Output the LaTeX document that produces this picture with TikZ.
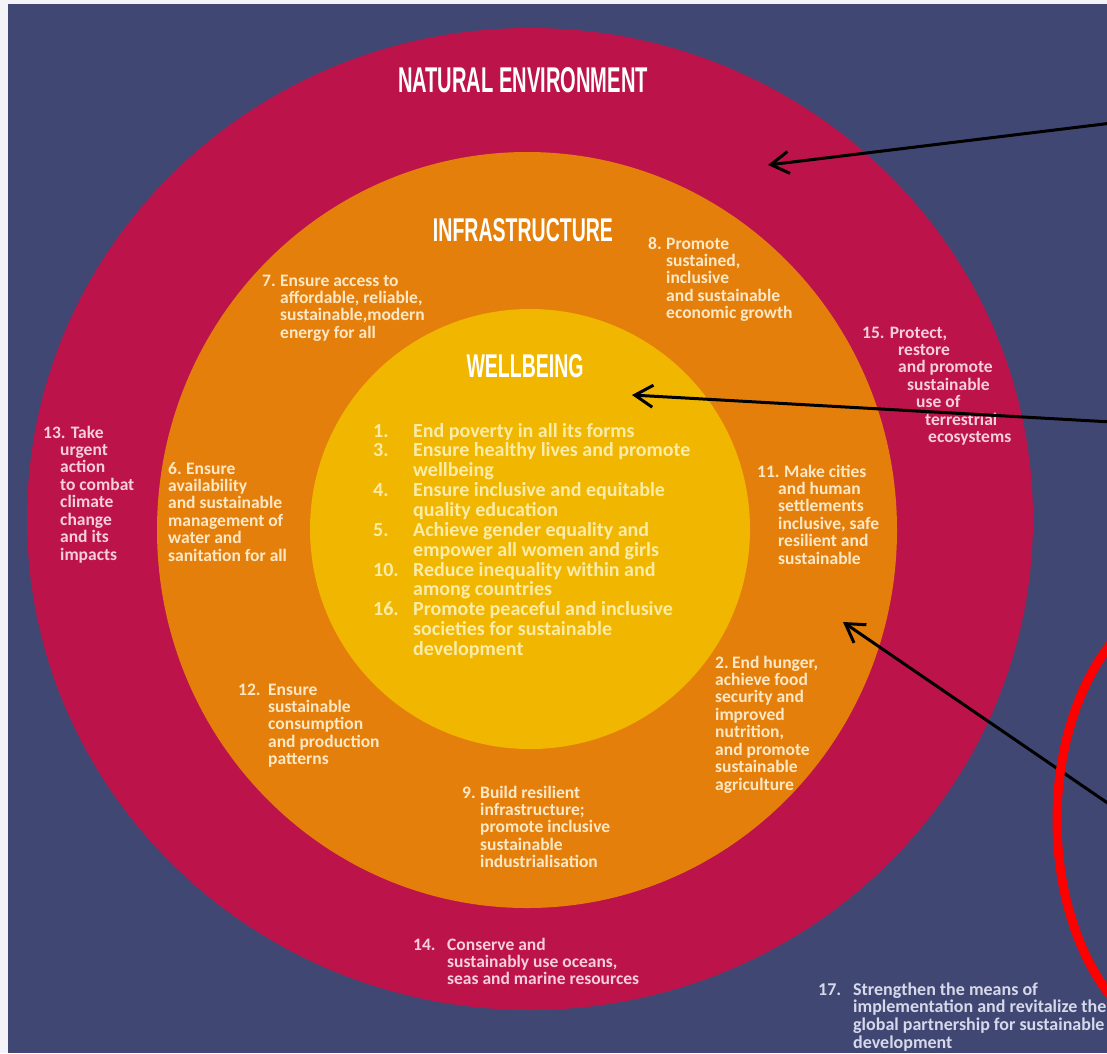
\documentclass[tikz,border=0pt]{standalone}
\usepackage{fontspec}
\usepackage{graphicx}
\usetikzlibrary{arrows.meta}
\newfontfamily\goalfont{Carlito}
\newfontfamily\headfont{Liberation Sans}
\definecolor{edgewhite}{RGB}{244,244,248}
\definecolor{bgnavy}{RGB}{65,71,115}
\definecolor{ringred}{RGB}{188,20,74}
\definecolor{ringorange}{RGB}{229,127,12}
\definecolor{coreyellow}{RGB}{241,182,0}
\definecolor{txtred}{RGB}{246,206,221}
\definecolor{txtorange}{RGB}{253,232,198}
\definecolor{txtyellow}{RGB}{252,236,168}
\definecolor{txtnavy}{RGB}{214,217,234}
\tikzset{
  goal/.style={font=\goalfont\bfseries\fontsize{17.5}{17.3}\selectfont, inner sep=0pt, anchor=base west},
  head/.style={font=\headfont\bfseries, text=white, inner sep=0pt},
  pointer/.style={line width=3pt, -{Straight Barb[length=18pt,width=22pt]}}
}
\begin{document}
\begin{tikzpicture}[x=1pt,y=-1pt]
\useasboundingbox (0,0) rectangle (1107,1053);
\clip (0,0) rectangle (1107,1053);
\fill[edgewhite] (0,0) rectangle (1107,1053);
\fill[bgnavy] (8,4) rectangle (1107,1053);
% the three rings
\fill[ringred] (530,519) ellipse [x radius=503, y radius=491];
\fill[ringorange] (527,530) ellipse [x radius=370, y radius=378];
\fill[coreyellow] (530,529) circle [radius=220];
% headings
\node[head] (natural) at (523,80) {\resizebox{250pt}{25pt}{NATURAL ENVIRONMENT}};
\node[head] (infra) at (523,230) {\resizebox{180pt}{23pt}{INFRASTRUCTURE}};
\node[head] (well) at (525,366) {\resizebox{117pt}{23pt}{WELLBEING}};
% goals in the outer ring
\node[goal, text=txtred] (g13) at (43,438) {\begin{tabular}[t]{@{}l@{}}13. Take\\\hspace*{17pt}urgent\\\hspace*{17pt}action\\\hspace*{17pt}to combat\\\hspace*{17pt}climate\\\hspace*{17pt}change\\\hspace*{17pt}and its\\\hspace*{17pt}impacts\end{tabular}};
\node[goal, text=txtred] (g15) at (862,338) {\begin{tabular}[t]{@{}l@{}}15. Protect,\\\hspace*{36pt}restore\\\hspace*{36pt}and promote\\\hspace*{45pt}sustainable\\\hspace*{54pt}use of\\\hspace*{63pt}terrestrial\\\hspace*{66pt}ecosystems\end{tabular}};
\node[goal, text=txtred] (g14) at (413,950) {\begin{tabular}[t]{@{}l@{}}\makebox[34pt][l]{14.}Conserve and\\\hspace*{34pt}sustainably use oceans,\\\hspace*{34pt}seas and marine resources\end{tabular}};
% goals in the middle ring
\node[goal, text=txtorange] (g7) at (262,286) {\begin{tabular}[t]{@{}l@{}}\makebox[18pt][l]{7.}Ensure access to\\\hspace*{18pt}affordable, reliable,\\\hspace*{18pt}sustainable,modern\\\hspace*{18pt}energy for all\end{tabular}};
\node[goal, text=txtorange] (g8) at (648,249) {\begin{tabular}[t]{@{}l@{}}\makebox[18pt][l]{8.}Promote\\\hspace*{18pt}sustained,\\\hspace*{18pt}inclusive\\\hspace*{18pt}and sustainable\\\hspace*{18pt}economic growth\end{tabular}};
\node[goal, text=txtorange] (g6) at (168,474) {\begin{tabular}[t]{@{}l@{}}\makebox[18pt][l]{6.}Ensure\\availability\\and sustainable\\management of\\water and\\sanitation for all\end{tabular}};
\node[goal, text=txtorange] (g11) at (757,477) {\begin{tabular}[t]{@{}l@{}}\makebox[27pt][l]{11.}Make cities\\\hspace*{21pt}and human\\\hspace*{21pt}settlements\\\hspace*{21pt}inclusive, safe\\\hspace*{21pt}resilient and\\\hspace*{21pt}sustainable\end{tabular}};
\node[goal, text=txtorange] (g12) at (238,695) {\begin{tabular}[t]{@{}l@{}}\makebox[30pt][l]{12.}Ensure\\\hspace*{30pt}sustainable\\\hspace*{30pt}consumption\\\hspace*{30pt}and production\\\hspace*{30pt}patterns\end{tabular}};
\node[goal, text=txtorange] (g9) at (462,798) {\begin{tabular}[t]{@{}l@{}}\makebox[18pt][l]{9.}Build resilient\\\hspace*{18pt}infrastructure;\\\hspace*{18pt}promote inclusive\\\hspace*{18pt}sustainable\\\hspace*{18pt}industrialisation\end{tabular}};
\node[goal, text=txtorange] (g2) at (715,668) {\begin{tabular}[t]{@{}l@{}}\makebox[17pt][l]{2.}End hunger,\\achieve food\\security and\\improved\\nutrition,\\and promote\\sustainable\\agriculture\end{tabular}};
% goals in the core
\node[goal, text=txtyellow, font=\goalfont\bfseries\fontsize{20}{19.4}\selectfont] (core) at (373,437) {\begin{tabular}[t]{@{}l@{}}\makebox[40pt][l]{1.}End poverty in all its forms\\\makebox[40pt][l]{3.}Ensure healthy lives and promote\\\hspace*{40pt}wellbeing\\\makebox[40pt][l]{4.}Ensure inclusive and equitable\\\hspace*{40pt}quality education\\\makebox[40pt][l]{5.}Achieve gender equality and\\\hspace*{40pt}empower all women and girls\\\makebox[40pt][l]{10.}Reduce inequality within and\\\hspace*{40pt}among countries\\\makebox[40pt][l]{16.}Promote peaceful and inclusive\\\hspace*{40pt}societies for sustainable\\\hspace*{40pt}development\end{tabular}};
% goal outside the rings
\node[goal, text=txtnavy, font=\goalfont\bfseries\fontsize{18}{17.3}\selectfont] (g17) at (818,995) {\begin{tabular}[t]{@{}l@{}}\makebox[35pt][l]{17.}Strengthen the means of\\\hspace*{35pt}implementation and revitalize the\\\hspace*{35pt}global partnership for sustainable\\\hspace*{35pt}development\end{tabular}};
% pointers
\coordinate (natFrom) at (1112,123);
\coordinate (natEnd) at (768,165);
\coordinate (wellFrom) at (1112,422);
\coordinate (wellEnd) at (632,395);
\coordinate (infraFrom) at (1112,806);
\coordinate (infraEnd) at (843,622);
\draw[pointer] (natFrom) -- (natEnd);
\draw[pointer] (wellFrom) -- (wellEnd);
\draw[pointer] (infraFrom) -- (infraEnd);
% red mark
\draw[red, line width=9pt] (1204,820) ellipse [x radius=147, y radius=228];
\end{tikzpicture}
\end{document}
